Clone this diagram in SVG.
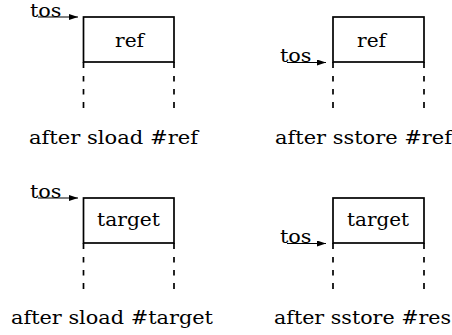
<svg xmlns="http://www.w3.org/2000/svg" width="452" height="335" viewBox="0 0 452 335">
<style>
text{font-family:'DejaVu Serif','Liberation Serif',serif;font-size:18px;fill:#000}
.box{fill:#fff;stroke:#000;stroke-width:1.7}
.side{stroke:#000;stroke-width:1.7;fill:none}
.ptr{stroke:#000;stroke-width:1.1;fill:none}
</style>
<defs>
<marker id="ah" markerWidth="9" markerHeight="6" refX="9" refY="3" orient="auto" markerUnits="userSpaceOnUse">
<path d="M0,0 L9,3 L0,6 Z" fill="#000"/>
</marker>
</defs>
<g id="stack-sload-ref">
<rect class="box" x="83.5" y="17" width="90.5" height="45"/>
<path class="side" d="M83.5 62V68M83.5 76V81.5M83.5 89V94.5M83.5 102V108M174 62V68M174 76V81.5M174 89V94.5M174 102V108"/>
<text x="115" y="47" textLength="29" lengthAdjust="spacingAndGlyphs">ref</text>
<text x="29" y="143.5" textLength="169" lengthAdjust="spacingAndGlyphs">after sload #ref</text>
</g>
<g id="stack-sstore-ref">
<rect class="box" x="333" y="17" width="91" height="45"/>
<path class="side" d="M333 62V68M333 76V81.5M333 89V94.5M333 102V108M424 62V68M424 76V81.5M424 89V94.5M424 102V108"/>
<text x="357" y="47" textLength="29" lengthAdjust="spacingAndGlyphs">ref</text>
<text x="275" y="143.5" textLength="177" lengthAdjust="spacingAndGlyphs">after sstore #ref</text>
</g>
<g id="stack-sload-target">
<rect class="box" x="83.5" y="198" width="90.5" height="45"/>
<path class="side" d="M83.5 243V249M83.5 257V262.5M83.5 270V275.5M83.5 283V289M174 243V249M174 257V262.5M174 270V275.5M174 283V289"/>
<text x="97" y="226" textLength="63" lengthAdjust="spacingAndGlyphs">target</text>
<text x="11" y="323.5" textLength="202" lengthAdjust="spacingAndGlyphs">after sload #target</text>
</g>
<g id="stack-sstore-res">
<rect class="box" x="333" y="198" width="91" height="45"/>
<path class="side" d="M333 243V249M333 257V262.5M333 270V275.5M333 283V289M424 243V249M424 257V262.5M424 270V275.5M424 283V289"/>
<text x="347" y="226" textLength="62" lengthAdjust="spacingAndGlyphs">target</text>
<text x="274" y="323.5" textLength="177" lengthAdjust="spacingAndGlyphs">after sstore #res</text>
</g>
<g id="connectors">
<text x="30" y="17.3" textLength="31.5" lengthAdjust="spacingAndGlyphs">tos</text>
<line class="ptr" x1="38" y1="17" x2="78" y2="17" marker-end="url(#ah)"/>
<text x="280" y="62" textLength="31.5" lengthAdjust="spacingAndGlyphs">tos</text>
<line class="ptr" x1="287" y1="62.5" x2="326" y2="62.5" marker-end="url(#ah)"/>
<text x="30" y="198" textLength="31.5" lengthAdjust="spacingAndGlyphs">tos</text>
<line class="ptr" x1="38" y1="198" x2="78" y2="198" marker-end="url(#ah)"/>
<text x="280" y="243" textLength="31.5" lengthAdjust="spacingAndGlyphs">tos</text>
<line class="ptr" x1="287" y1="243.5" x2="326" y2="243.5" marker-end="url(#ah)"/>
</g>
</svg>
